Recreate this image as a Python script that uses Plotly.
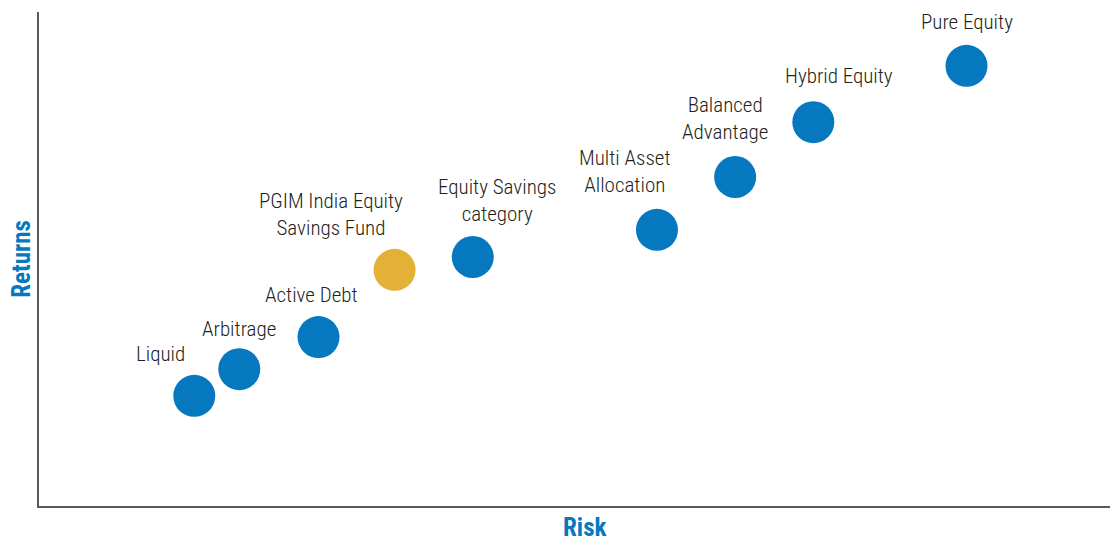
import plotly.graph_objects as go

# Data (risk, return on a 0-10 scale)
categories = ["Liquid", "Arbitrage", "Active Debt", "PGIM India Equity<br>Savings Fund",
              "Equity Savings<br>category", "Multi Asset<br>Allocation", "Balanced<br>Advantage",
              "Hybrid Equity", "Pure Equity"]
risk = [1.45, 1.87, 2.61, 3.32, 4.05, 5.77, 6.50, 7.23, 8.66]
returns = [2.23, 2.77, 3.42, 4.78, 5.04, 5.59, 6.66, 7.77, 8.91]
highlight = [False, False, False, True, False, False, False, False, False]

# label offsets in pixels (styling)
label_dx = [-34, 0, -7, -64, 24, -32, -10, 26, 1]
label_dy = [42, 40, 42, 55, 57, 58, 59, 46, 44]

BLUE = "#0578C0"
GOLD = "#E3B135"
FONT = "Roboto Condensed, Liberation Sans Narrow, sans-serif"

colors = [GOLD if h else BLUE for h in highlight]

fig = go.Figure()
fig.add_trace(go.Scatter(
    x=risk, y=returns, mode="markers",
    marker=dict(size=42, color=colors, line=dict(width=0)),
    hoverinfo="skip", showlegend=False,
))

annotations = []
for c, xv, yv, dx, dy in zip(categories, risk, returns, label_dx, label_dy):
    annotations.append(dict(
        x=xv, y=yv, xref="x", yref="y", text=c, showarrow=False,
        xshift=dx, yshift=dy, align="center",
        font=dict(family=FONT, size=21, color="#231F20", weight=300),
        xanchor="center", yanchor="middle",
    ))

annotations.append(dict(x=0.509, y=-0.044, xref="paper", yref="paper", text="<b>Risk</b>",
                        showarrow=False, xanchor="center", yanchor="middle",
                        font=dict(family=FONT, size=25, color=BLUE)))
annotations.append(dict(x=-0.017, y=0.5, xref="paper", yref="paper", text="<b>Returns</b>",
                        showarrow=False, xanchor="center", yanchor="middle", textangle=-90,
                        font=dict(family=FONT, size=25, color=BLUE)))

fig.update_layout(
    width=1110, height=541,
    margin=dict(l=39, r=0, t=12, b=35),
    paper_bgcolor="white", plot_bgcolor="white",
    annotations=annotations,
    xaxis=dict(range=[0, 10], showgrid=False, zeroline=False, showticklabels=False,
               ticks="", showline=True, linecolor="#5A5A5A", linewidth=2, fixedrange=True),
    yaxis=dict(range=[0, 10], showgrid=False, zeroline=False, showticklabels=False,
               ticks="", showline=True, linecolor="#5A5A5A", linewidth=2, fixedrange=True),
)

fig.write_html("out.html", config={"displayModeBar": False})
